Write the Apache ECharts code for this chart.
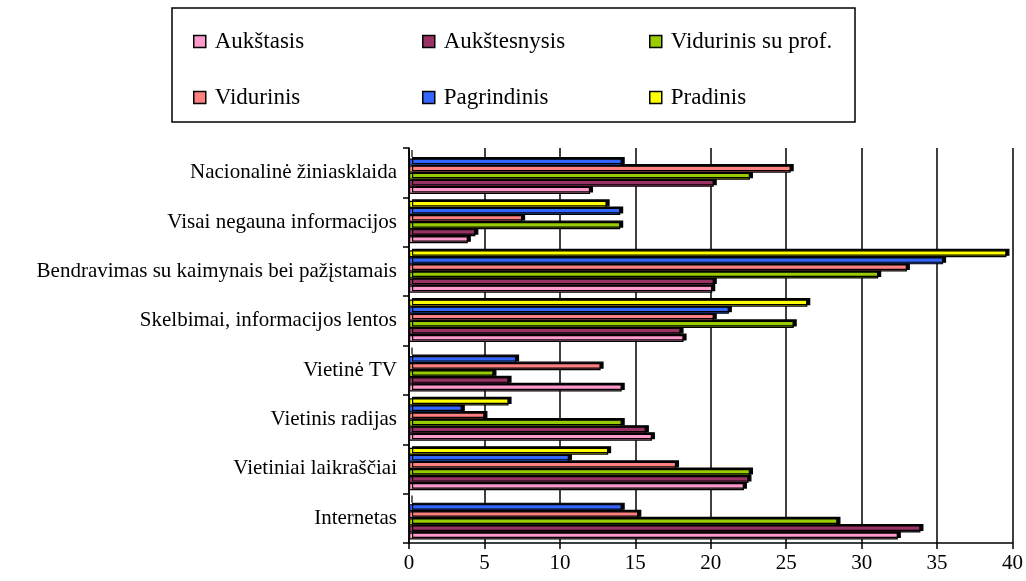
<!DOCTYPE html>
<html lang="lt">
  <head>
    <meta charset="UTF-8" />
    <title>Informacijos šaltiniai pagal išsilavinimą</title>
    <script src="https://cdn.jsdelivr.net/npm/echarts@6/dist/echarts.min.js"></script>
    <style>
      body { margin: 0; background: #fff; }
    </style>
  </head>
  <body>
    <div id="main" style="width: 1026px; height: 581px"></div>
  </body>
  <script>
    // kategorijos nuo apačios į viršų
    const categories = [
      "Internetas",
      "Vietiniai laikraščiai",
      "Vietinis radijas",
      "Vietinė TV",
      "Skelbimai, informacijos lentos",
      "Bendravimas su kaimynais bei pažįstamais",
      "Visai negauna informacijos",
      "Nacionalinė žiniasklaida",
    ];

    const seriesNames = [
      "Aukštasis",
      "Aukštesnysis",
      "Vidurinis su prof.",
      "Vidurinis",
      "Pagrindinis",
      "Pradinis",
    ];

    const aukstasis = [32.4, 22.2, 16.1, 14.1, 18.2, 20.1, 3.9, 12.0];
    const aukstesnysis = [33.9, 22.5, 15.7, 6.6, 18.0, 20.2, 4.4, 20.2];
    const vidurinisProf = [28.4, 22.6, 14.1, 5.6, 25.5, 31.1, 14.0, 22.6];
    const vidurinis = [15.2, 17.7, 5.0, 12.7, 20.2, 33.0, 7.5, 25.3];
    const pagrindinis = [14.1, 10.6, 3.5, 7.1, 21.2, 35.4, 14.0, 14.1];
    const pradinis = [0, 13.2, 6.6, 0, 26.4, 39.6, 13.1, 0];

    const xTicks = [0, 5, 10, 15, 20, 25, 30, 35, 40];

    const values = [aukstasis, aukstesnysis, vidurinisProf, vidurinis, pagrindinis, pradinis];
    const colors = ["#FF99CC", "#993366", "#99CC00", "#FF8080", "#3366FF", "#FFFF00"];

    const font = "'Liberation Serif', 'Times New Roman', serif";

    // legendos vietos (2 eilutės po 3)
    const legendPos = [
      [193, 30], [422, 30], [649, 30],
      [193, 86], [422, 86], [649, 86],
    ];

    var myChart = echarts.init(document.getElementById("main"));

    // ECharts deda pirmą seriją grupės viršuje, todėl serijos sudedamos atvirkščiai
    const order = [5, 4, 3, 2, 1, 0];

    var option = {
      animation: false,
      backgroundColor: "#fff",
      graphic: [
        {
          type: "rect",
          shape: { x: 172, y: 8, width: 683, height: 114 },
          style: { fill: "none", stroke: "#000", lineWidth: 1.5 },
        },
      ],
      legend: seriesNames.map((name, i) => ({
        data: [name],
        left: legendPos[i][0],
        top: legendPos[i][1],
        padding: 0,
        icon: "rect",
        itemWidth: 12,
        itemHeight: 12,
        selectedMode: false,
        itemStyle: { borderColor: "#000", borderWidth: 1.5 },
        textStyle: {
          fontFamily: font,
          fontSize: 23,
          color: "#000",
          padding: [0, 0, 0, 4],
        },
      })),
      grid: {
        left: 409,
        right: 10,
        top: 148,
        bottom: 38,
      },
      xAxis: {
        type: "value",
        min: 0,
        max: 40,
        interval: 5,
        axisLine: { show: true, lineStyle: { color: "#000", width: 1.5 } },
        axisTick: { show: true, length: 6, lineStyle: { color: "#000", width: 1.5 } },
        axisLabel: {
          fontFamily: font,
          fontSize: 21,
          color: "#000",
          margin: 10,
          formatter: (v) => (xTicks.includes(v) ? String(v) : ""),
        },
        splitLine: { show: true, lineStyle: { color: "#000", width: 1.5 } },
      },
      yAxis: {
        type: "category",
        data: categories,
        axisLine: { show: true, lineStyle: { color: "#000", width: 1.5 } },
        axisTick: { show: true, length: 6, lineStyle: { color: "#000", width: 1.5 } },
        axisLabel: {
          fontFamily: font,
          fontSize: 21,
          color: "#000",
          margin: 12,
        },
      },
      series: order.map((i) => ({
        name: seriesNames[i],
        type: "bar",
        data: values[i],
        z: 2 + i,
        barGap: "0%",
        barCategoryGap: "14%",
        itemStyle: {
          color: colors[i],
          borderColor: "#000",
          borderWidth: 1.2,
          shadowColor: "#000",
          shadowBlur: 0,
          shadowOffsetX: 3,
          shadowOffsetY: -1.5,
        },
      })),
    };

    myChart.setOption(option);
  </script>
</html>
